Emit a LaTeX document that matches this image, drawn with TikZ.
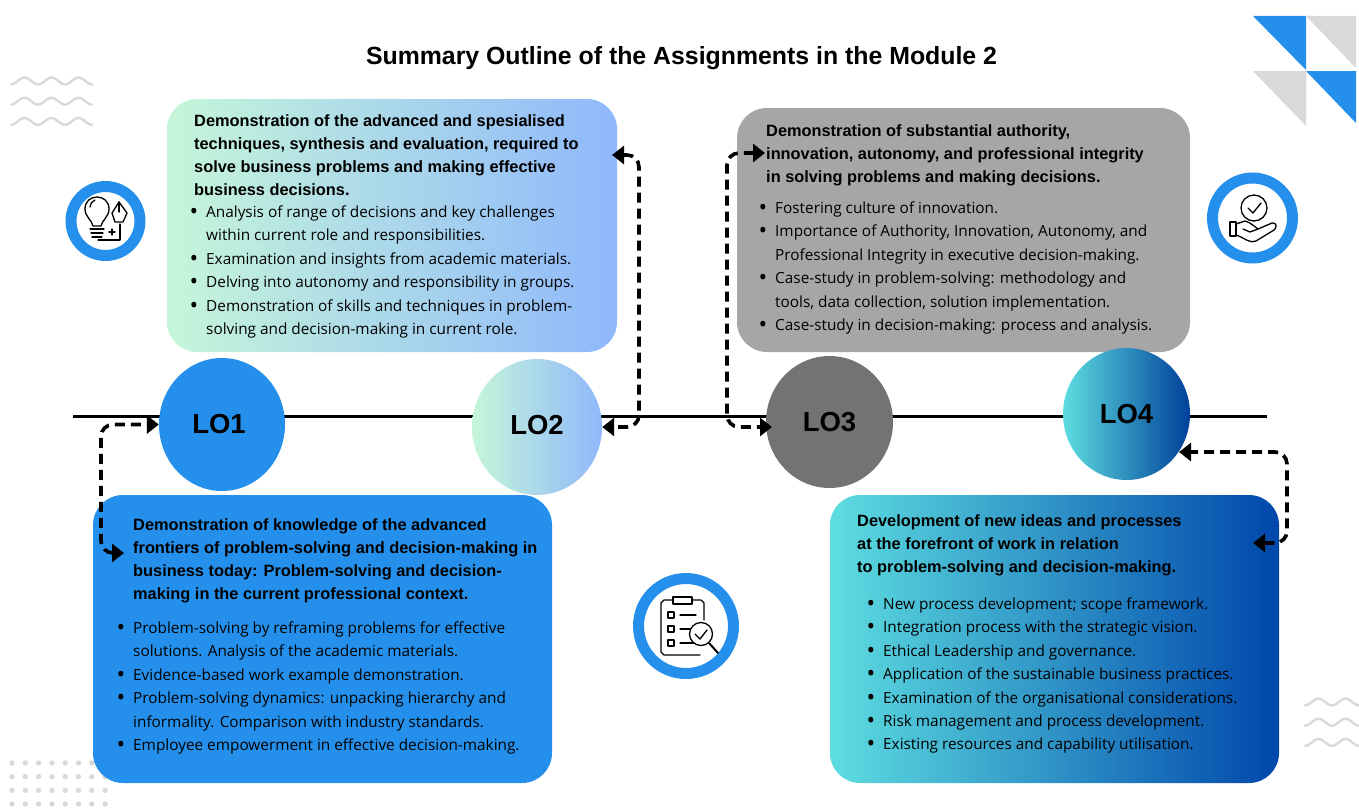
\documentclass[tikz,border=0pt]{standalone}
\usepackage{fontspec}
\setmainfont{Liberation Sans}
\newfontfamily\bodyfont{Open Sans}
\usetikzlibrary{arrows.meta,shapes.geometric}
\definecolor{ringblue}{HTML}{2490EC}
\definecolor{decogray}{HTML}{D9D9D9}
\definecolor{boxgray}{HTML}{A6A6A6}
\definecolor{lothree}{HTML}{737373}
\definecolor{mint}{HTML}{C6F6D9}
\definecolor{skyblue}{HTML}{8FB8FB}
\definecolor{aqua}{HTML}{5DDDE0}
\definecolor{deepblue}{HTML}{0047AB}
\newcommand{\bulletitem}{\llap{\raisebox{-2pt}{\fontsize{23}{23}\selectfont\textbullet}\hspace{8pt}}}
\newcommand{\wavegroup}[3]{%
  \foreach \row in {0,1,2}
    \draw[decogray,line width=2.4pt,line cap=round] plot[domain=0:1,samples=90]
      ({#1+\x*27*#3},{#2+\row*20.2+3.4*cos(360*#3*\x)});}
\tikzset{
  card/.style={rectangle,rounded corners=30pt,inner sep=0pt},
  lo/.style={ellipse,inner sep=0pt,font=\fontsize{27.5}{32}\selectfont\bfseries},
  heading/.style={anchor=north west,inner sep=0pt,align=left,font=\fontsize{16.35}{23}\selectfont\bfseries},
  bullets/.style={anchor=north west,inner sep=0pt,align=left,font=\bodyfont\fontsize{15.35}{23.4}\selectfont},
  ring/.style={circle,draw=ringblue,line width=11pt,fill=white,inner sep=0pt},
  flowarrow/.style={{Triangle[length=12pt,width=18pt]}-{Triangle[length=12pt,width=18pt]},
    line width=3.6pt,dash pattern=on 10pt off 6pt,rounded corners=12pt},
  iconline/.style={line width=1.3pt,black,line join=round,line cap=round}
}
\begin{document}
\begin{tikzpicture}[x=1pt,y=-1pt]
\useasboundingbox (0,0) rectangle (1359,808);

\fill[ringblue] (1253,16) -- (1306,16) -- (1306,70) -- cycle;
\fill[decogray] (1306,16) -- (1356,16) -- (1356,68) -- cycle;
\fill[decogray] (1253,71) -- (1306,71) -- (1306,126) -- cycle;
\fill[ringblue] (1306,71) -- (1356,71) -- (1356,123) -- cycle;
\wavegroup{11}{81}{3}
\wavegroup{1305}{702}{2}
\foreach \i in {0,...,7}
  \foreach \j in {0,...,3}
    \fill[decogray] (12+\i*13.3,763+\j*13.7) circle (2.7);

\node [font=\fontsize{24.85}{28}\selectfont\bfseries] (title) at (681.5,58.5)
  {Summary Outline of the Assignments in the Module 2};

\draw[line width=3pt] (73,416) -- (1267,416);

\node [card,minimum width=450pt,minimum height=253pt,left color=mint,right color=skyblue] (box1) at (392,225.5) {};
\node [card,minimum width=453pt,minimum height=244pt,fill=boxgray] (box2) at (963.5,230) {};
\node [card,minimum width=459pt,minimum height=288pt,fill=ringblue] (box3) at (322.5,639) {};
\node [card,minimum width=449pt,minimum height=288pt,left color=aqua,right color=deepblue] (box4) at (1054.5,639) {};

\node [lo,minimum width=126pt,minimum height=133pt,fill=ringblue] (lo1) at (222,424.5) {\hspace*{-6pt}\raisebox{1pt}{LO1}};
\node [lo,minimum width=130pt,minimum height=136pt,left color=mint,right color=skyblue] (lo2) at (537,427) {\raisebox{5pt}{LO2}};
\node [lo,minimum width=127pt,minimum height=132pt,fill=lothree] (lo3) at (829.5,422) {\raisebox{-5pt}{LO3}};
\node [lo,minimum width=127pt,minimum height=132pt,left color=aqua,right color=deepblue!90!black] (lo4) at (1126.5,414) {LO4};

\node [heading] (head1) at (194,110) {\strut Demonstration of the advanced and spesialised\\
  techniques, synthesis and evaluation, required to\\
  solve business problems and making effective\\
  business decisions.};
\node [bullets] (list1) at (206,201) {\strut\bulletitem Analysis of range of decisions and key challenges\\
  within current role and responsibilities.\\
  \bulletitem Examination and insights from academic materials.\\
  \bulletitem Delving into autonomy and responsibility in groups.\\
  \bulletitem Demonstration of skills and techniques in problem-\\
  solving and decision-making in current role.};

\node [heading] (head2) at (766,120) {\strut Demonstration of substantial authority,\\
  innovation, autonomy, and professional integrity\\
  in solving problems and making decisions.};
\node [bullets] (list2) at (775,197) {\strut\bulletitem Fostering culture of innovation.\\
  \bulletitem Importance of Authority, Innovation, Autonomy, and\\
  Professional Integrity in executive decision-making.\\
  \bulletitem Case-study in problem-solving: methodology and\\
  tools, data collection, solution implementation.\\
  \bulletitem Case-study in decision-making: process and analysis.};

\node [heading] (head3) at (133,514) {\strut Demonstration of knowledge of the advanced\\
  frontiers of problem-solving and decision-making in\\
  business today: Problem-solving and decision-\\
  making in the current professional context.};
\node [bullets] (list3) at (133,617) {\strut\bulletitem Problem-solving by reframing problems for effective\\
  solutions. Analysis of the academic materials.\\
  \bulletitem Evidence-based work example demonstration.\\
  \bulletitem Problem-solving dynamics: unpacking hierarchy and\\
  informality. Comparison with industry standards.\\
  \bulletitem Employee empowerment in effective decision-making.};

\node [heading] (head4) at (857,510) {\strut Development of new ideas and processes\\
  at the forefront of work in relation\\
  to problem-solving and decision-making.};
\node [bullets] (list4) at (883,593) {\strut\bulletitem New process development; scope framework.\\
  \bulletitem Integration process with the strategic vision.\\
  \bulletitem Ethical Leadership and governance.\\
  \bulletitem Application of the sustainable business practices.\\
  \bulletitem Examination of the organisational considerations.\\
  \bulletitem Risk management and process development.\\
  \bulletitem Existing resources and capability utilisation.};

\coordinate (lo1in) at (124,553);
\coordinate (lo2in) at (612,155);
\coordinate (lo3out) at (765,153);
\coordinate (lo3in) at (772,427);
\coordinate (lo4in) at (1179,452);
\coordinate (box4in) at (1253,543);
\draw[flowarrow] (lo1in) -- ++(-23,0) |- (lo1.west);
\draw[flowarrow] (lo2in) -- ++(27,0) |- (lo2.east);
\draw[flowarrow] (lo3out) -- ++(-38,0) |- (lo3in);
\draw[flowarrow] (box4in) -- ++(34,0) |- (lo4in);

\node [ring,minimum size=69pt] (icon1) at (105.5,221) {};
\draw[iconline] (93,226) .. controls (92,220) and (85,217) .. (85,209)
  .. controls (85,193) and (109,193) .. (109,209)
  .. controls (109,217) and (102,220) .. (101,226) -- cycle;
\draw[iconline] (90,229) -- (104,229) (91,233) -- (103,233) (92,237) -- (102,237);
\draw[iconline] (98,240) -- (120,240) -- (120,224);
\draw[iconline] (119,202) -- (127,213) -- (123,222) -- (115,222) -- (112,213) -- cycle;
\draw[iconline] (112,229) -- (112,235) (109,232) -- (115,232);
\draw[iconline] (119,202) -- (119,212);
\draw[iconline] (90,207) .. controls (90,204) and (92,201) .. (95,200);

\node [ring,minimum size=80pt] (icon2) at (1252.5,218) {};
\draw[iconline] (1254,208) circle (13);
\draw[iconline] (1248,208) -- (1253,213) -- (1261,203);
\draw[iconline] (1230,222) rectangle (1236,236);
\draw[iconline] (1236,224) -- (1245,221) .. controls (1250,222) and (1255,227) .. (1258,229)
  -- (1272,223) .. controls (1277,222) and (1277,228) .. (1274,230)
  -- (1256,241) .. controls (1250,244) and (1245,238) .. (1236,235);
\draw[iconline] (1243,229) -- (1250,232) -- (1258,229);

\node [ring,minimum size=95pt] (icon3) at (686,626) {};
\draw[iconline] (701,600) -- (664,600) -- (661,603) -- (661,652) -- (664,655) -- (700,655)
  (704,620) -- (704,603) -- (701,600);
\draw[iconline,fill=white] (673,597) rectangle (692,604);
\foreach \row in {615,629,643} {
  \draw[iconline] (668,\row-3) rectangle (674,\row+3);
  \draw[iconline] (680,\row) -- (696,\row);
}
\draw[iconline,fill=white] (701,634) circle (11.5);
\draw[iconline] (695,634) -- (700,639) -- (707,630);
\draw[iconline,line width=2pt] (709,643) -- (718,653);
\end{tikzpicture}
\end{document}
